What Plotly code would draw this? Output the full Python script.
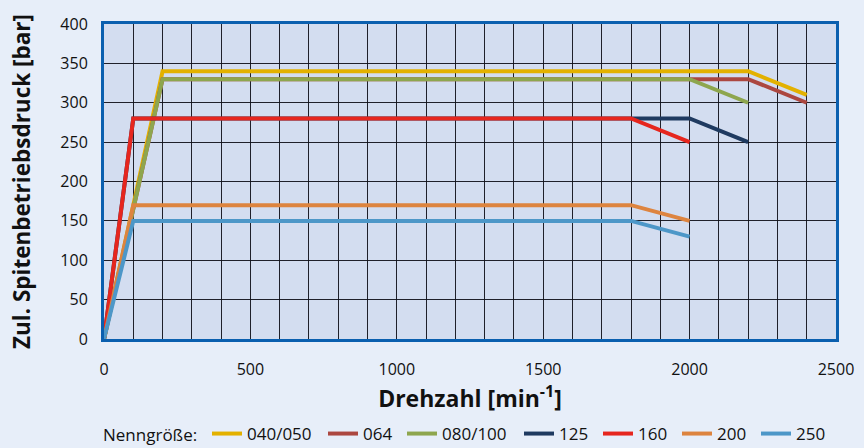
import plotly.graph_objects as go

names = ["040/050", "064", "080/100", "125", "160", "200", "250"]
colors = ["#E3B100", "#AC4740", "#8EA64E", "#1F3A60", "#E6261E", "#DD843F", "#4D97C8"]
x_040 = [0, 200, 2200, 2400]; y_040 = [0, 340, 340, 310]
x_064 = [0, 200, 2200, 2400]; y_064 = [0, 330, 330, 300]
x_080 = [0, 200, 2000, 2200]; y_080 = [0, 330, 330, 300]
x_125 = [0, 100, 2000, 2200]; y_125 = [0, 280, 280, 250]
x_160 = [0, 100, 1800, 2000]; y_160 = [0, 280, 280, 250]
x_200 = [0, 100, 1800, 2000]; y_200 = [0, 170, 170, 150]
x_250 = [0, 100, 1800, 2000]; y_250 = [0, 150, 150, 130]
xs = [x_040, x_064, x_080, x_125, x_160, x_200, x_250]
ys = [y_040, y_064, y_080, y_125, y_160, y_200, y_250]

FONT = "Open Sans"
W, H = 864, 448
L, R, T, B = 104, 28, 24, 109
legend_text_px = [247, 363, 442, 559, 638, 717, 796]  # where each legend label starts
LEG_Y = 434

fig = go.Figure()
layout_legends = {}
for i, (n, c, x, y) in enumerate(zip(names, colors, xs, ys)):
    key = "legend" if i == 0 else f"legend{i + 1}"
    fig.add_trace(go.Scatter(x=x, y=y, mode="lines", name=n, legend=key,
                             line=dict(color=c, width=4)))
    layout_legends[key] = dict(
        orientation="h", x=(legend_text_px[i] - 40) / W, xanchor="left",
        y=1 - LEG_Y / H, yanchor="middle", xref="container", yref="container",
        font=dict(size=17, family=FONT), bgcolor="rgba(0,0,0,0)", itemwidth=30)

grid = "rgba(15,15,25,0.92)"
fig.update_layout(
    width=W, height=H,
    margin=dict(l=L, r=R, t=T, b=B, autoexpand=False),
    paper_bgcolor="#E7EEF9", plot_bgcolor="#D3DDF0",
    font=dict(family=FONT, size=15, color="#111"),
    showlegend=True,
    **layout_legends,
)
fig.add_annotation(text="Nenngröße:", xref="paper", yref="paper",
                   x=(101 - L) / (W - L - R), y=(H - B - LEG_Y) / (H - T - B),
                   xanchor="left", yanchor="middle",
                   showarrow=False, font=dict(size=17, family=FONT))
fig.update_xaxes(range=[0, 2500], dtick=500, tick0=0, showgrid=True, gridcolor=grid, gridwidth=1.4,
                 minor=dict(dtick=100, showgrid=True, gridcolor=grid, gridwidth=1.4),
                 showline=True, mirror=True, linecolor="#0A5FAF", linewidth=3,
                 zeroline=False, ticks="", ticklabelstandoff=14, automargin=False,
                 tickfont=dict(size=16),
                 title=dict(text="<b>Drehzahl [min<sup>-1</sup>]</b>", font=dict(size=23), standoff=3))
fig.update_yaxes(range=[0, 400], dtick=50, tick0=0, showgrid=True, gridcolor=grid, gridwidth=1.4,
                 showline=True, mirror=True, linecolor="#0A5FAF", linewidth=3,
                 zeroline=False, ticks="", ticklabelstandoff=10, automargin=False,
                 tickfont=dict(size=16),
                 title=dict(text="<b>Zul. Spitenbetriebsdruck [bar]</b>", font=dict(size=22.5), standoff=24))
fig.write_html("out.html", config={"displayModeBar": False},
               post_script="document.body.style.margin='0px';")
